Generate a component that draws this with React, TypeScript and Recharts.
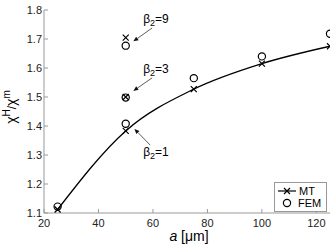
import React from 'react';
import {
    ComposedChart,
    Line,
    Scatter,
    XAxis,
    YAxis,
    ReferenceLine,
    ReferenceDot,
    Legend
} from 'recharts';

// main sweep over a [um]
const aValues = [25, 50, 75, 100, 125];
const mtValues = [1.112, 1.383, 1.527, 1.615, 1.675];
const femValues = [1.122, 1.408, 1.565, 1.640, 1.718];

// extra points at a = 50 for beta2 = 3 and 9
const betaA = [50, 50];
const betaMt = [1.500, 1.705];
const betaFem = [1.498, 1.677];

const xTicks = [20, 40, 60, 80, 100, 120];
const yTicks = [1.1, 1.2, 1.3, 1.4, 1.5, 1.6, 1.7, 1.8];

// annotations (data coordinates)
const noteValues = ['9', '3', '1'];
const noteTextX = [56.4, 56.4, 56.4];
const noteTextY = [1.755, 1.583, 1.297];
const arrowTail = [[59.7, 1.738], [59.7, 1.566], [59.0, 1.334]];
const arrowHead = [[52.8, 1.692], [52.8, 1.521], [53.2, 1.390]];

const FONT = '"Liberation Sans", Arial, Helvetica, sans-serif';

const mtData = aValues.map((a, i) => ({ a, v: mtValues[i] }));
const femData = aValues.map((a, i) => ({ a, v: femValues[i] }));
const betaMtData = betaA.map((a, i) => ({ a, v: betaMt[i] }));
const betaFemData = betaA.map((a, i) => ({ a, v: betaFem[i] }));

const XMark = (props: any) => {
    const { cx, cy } = props;
    if (cx == null || cy == null) return null;
    return (
        <path
            key={`x-${cx}-${cy}`}
            d={`M${cx - 3},${cy - 3}L${cx + 3},${cy + 3}M${cx - 3},${cy + 3}L${cx + 3},${cy - 3}`}
            stroke="#000"
            strokeWidth={1.2}
            fill="none"
        />
    );
};

const OMark = (props: any) => {
    const { cx, cy } = props;
    if (cx == null || cy == null) return null;
    return <circle cx={cx} cy={cy} r={3.6} stroke="#000" strokeWidth={1.2} fill="none" />;
};

const Arrow = (props: any) => {
    const { x1, y1, x2, y2 } = props;
    const ang = Math.atan2(y2 - y1, x2 - x1);
    const len = 5;
    const w = 2.2;
    const bx = x2 - len * Math.cos(ang);
    const by = y2 - len * Math.sin(ang);
    const px = -Math.sin(ang) * w;
    const py = Math.cos(ang) * w;
    return (
        <g>
            <line x1={x1} y1={y1} x2={bx} y2={by} stroke="#333" strokeWidth={0.8} />
            <polygon points={`${x2},${y2} ${bx + px},${by + py} ${bx - px},${by - py}`} fill="#111" />
        </g>
    );
};

const BetaText = (value: string) => (props: any) => {
    const { cx, cy } = props;
    return (
        <text x={cx} y={cy} fontFamily={FONT} fontSize={12} fill="#000">
            <tspan>β</tspan>
            <tspan fontSize={9} dy={3}>2</tspan>
            <tspan dy={-3}>={value}</tspan>
        </text>
    );
};

const YLabel = () => (
    <text
        x={16}
        y={107}
        transform="rotate(-90, 16, 107)"
        textAnchor="middle"
        fontFamily={FONT}
        fontSize={14}
        fill="#000"
    >
        <tspan>χ</tspan>
        <tspan fontSize={10} dy={-6}>H</tspan>
        <tspan fontSize={12} dy={6}>/</tspan>
        <tspan>χ</tspan>
        <tspan fontSize={10} dy={-6}>m</tspan>
    </text>
);

const XLabel = () => (
    <text x={189} y={241} textAnchor="middle" fontFamily={FONT} fontSize={14} fill="#000">
        <tspan fontStyle="italic">a</tspan>
        <tspan> [μm]</tspan>
    </text>
);

const LegendBox = () => (
    <div style={{ width: 51, height: 28, border: '1px solid #999', background: '#fff' }}>
        <svg width={51} height={28}>
            <line x1={3} y1={8} x2={21} y2={8} stroke="#000" strokeWidth={1.2} />
            <XMark cx={12} cy={8} />
            <text x={24} y={12} fontFamily={FONT} fontSize={11} fill="#000">MT</text>
            <OMark cx={12} cy={20} />
            <text x={23} y={24} fontFamily={FONT} fontSize={11} fill="#000">FEM</text>
        </svg>
    </div>
);

export default function App() {
    return (
        <div style={{ position: 'absolute', left: 0, top: 0, width: 335, height: 245, background: '#fff' }}>
            <ComposedChart width={335} height={245} margin={{ top: 10, right: 5, left: 0, bottom: 0 }}>
                <XAxis
                    dataKey="a"
                    type="number"
                    domain={[20, 125]}
                    ticks={xTicks}
                    allowDataOverflow
                    height={32}
                    stroke="#999"
                    tickSize={-4}
                    tickMargin={10}
                    tick={{ fontSize: 11, fill: '#222', fontFamily: FONT }}
                    label={{ content: <XLabel /> }}
                />
                <YAxis
                    type="number"
                    domain={[1.1, 1.8]}
                    ticks={yTicks}
                    allowDataOverflow
                    width={44}
                    stroke="#999"
                    tickSize={-4}
                    tickMargin={6}
                    tickFormatter={(v: number) => v.toFixed(1)}
                    tick={{ fontSize: 11, fill: '#222', fontFamily: FONT }}
                    label={{ content: <YLabel /> }}
                />
                <Line
                    data={mtData}
                    dataKey="v"
                    type="monotone"
                    stroke="#000"
                    strokeWidth={1.3}
                    dot={XMark}
                    activeDot={false}
                    isAnimationActive={false}
                    legendType="none"
                />
                <Scatter data={femData} dataKey="v" shape={OMark} isAnimationActive={false} />
                <Scatter data={betaMtData} dataKey="v" shape={XMark} isAnimationActive={false} />
                <Scatter data={betaFemData} dataKey="v" shape={OMark} isAnimationActive={false} />
                {noteValues.map((n, i) => (
                    <ReferenceLine
                        key={`arrow-${i}`}
                        segment={[
                            { x: arrowTail[i][0], y: arrowTail[i][1] },
                            { x: arrowHead[i][0], y: arrowHead[i][1] }
                        ]}
                        shape={Arrow}
                    />
                ))}
                {noteValues.map((n, i) => (
                    <ReferenceDot
                        key={`note-${i}`}
                        x={noteTextX[i]}
                        y={noteTextY[i]}
                        r={0}
                        shape={BetaText(n)}
                    />
                ))}
                <Legend
                    layout="vertical"
                    align="center"
                    verticalAlign="middle"
                    content={<LegendBox />}
                    wrapperStyle={{ left: 274, top: 182, width: 53, height: 30 }}
                />
            </ComposedChart>
        </div>
    );
}
